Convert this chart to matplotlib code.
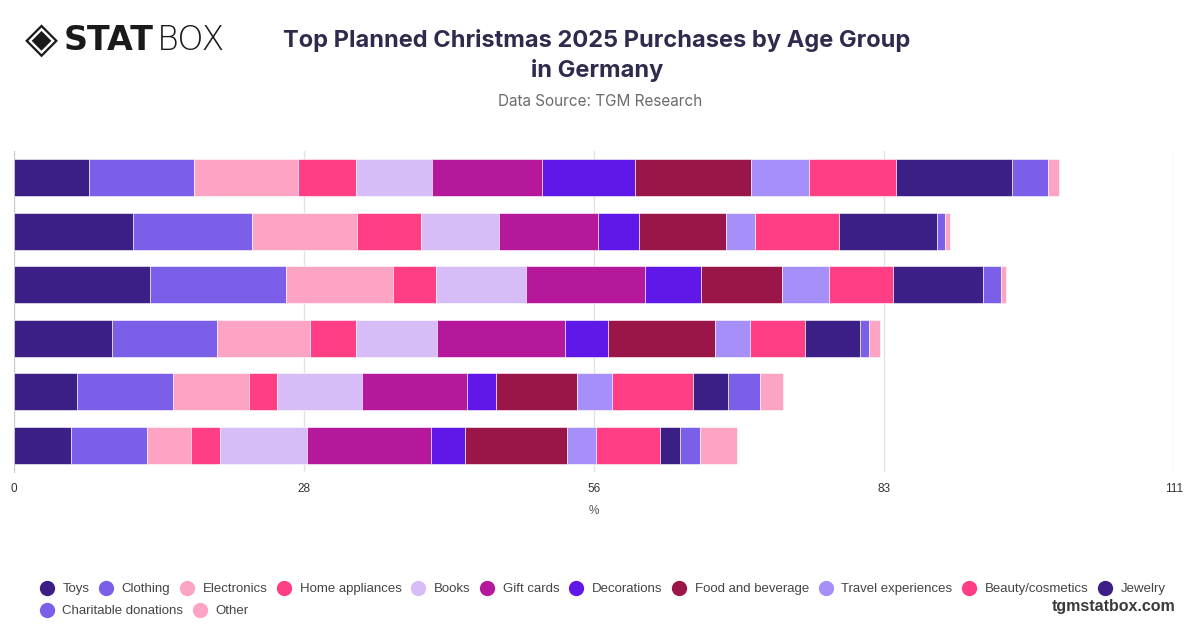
import matplotlib.pyplot as plt
from matplotlib.lines import Line2D
import numpy as np

# age groups (labels are not shown on the chart)
age_groups = ["18-24", "25-34", "35-44", "45-54", "55-64", "65+"]

categories = ["Toys", "Clothing", "Electronics", "Home appliances", "Books",
              "Gift cards", "Decorations", "Food and beverage", "Travel experiences",
              "Beauty/cosmetics", "Jewelry", "Charitable donations", "Other"]

# share (%) per category, one list per age group, top bar first
values = [
    [7.2, 10.0, 10.0, 5.5, 7.3, 10.5, 8.9, 11.1, 5.6, 8.3, 11.1, 3.4, 1.1],
    [11.4, 11.4, 10.0, 6.1, 7.5, 9.5, 3.9, 8.3, 2.8, 8.0, 9.4, 0.8, 0.5],
    [13.0, 13.0, 10.3, 4.1, 8.6, 11.4, 5.3, 7.8, 4.5, 6.1, 8.6, 1.7, 0.5],
    [9.4, 10.0, 8.9, 4.4, 7.8, 12.2, 4.1, 10.3, 3.3, 5.3, 5.3, 0.8, 1.1],
    [6.0, 9.2, 7.3, 2.7, 8.1, 10.0, 2.8, 7.8, 3.3, 7.8, 3.3, 3.1, 2.2],
    [5.5, 7.2, 4.2, 2.8, 8.3, 11.9, 3.3, 9.7, 2.8, 6.1, 1.9, 1.9, 3.6],
]

colors = ["#3b1f87", "#7c5fe9", "#fda4c4", "#ff3e86", "#d6bdf8", "#b5189b",
          "#6018e8", "#9b1648", "#a78ffa", "#ff3e86", "#3b1f87", "#7c5fe9", "#fda4c4"]

x_max = 111
x_ticks = np.linspace(0, x_max, 5)

fig = plt.figure(figsize=(12, 6.28), dpi=100)
ax = fig.add_axes([14/1200, 1 - 472/628, 1160/1200, 321/628])

data = np.array(values)
y = np.arange(len(age_groups))
left = np.zeros(len(age_groups))
for i, cat in enumerate(categories):
    ax.barh(y, data[:, i], left=left, height=0.69, color=colors[i],
            edgecolor="white", linewidth=0.4, label=cat, zorder=3)
    left += data[:, i]

ax.set_ylim(len(age_groups) - 0.5, -0.5)
ax.set_xlim(0, x_max)
ax.set_yticks([])
ax.set_xticks(x_ticks)
ax.set_xticklabels([f"{t:.0f}" for t in x_ticks], fontsize=8.5, color="#333333",
                   family="Liberation Sans")
ax.tick_params(axis="x", length=0, pad=8)
ax.grid(axis="x", color="#e3e3e3", linewidth=1, zorder=0)
for s in ["top", "right", "bottom"]:
    ax.spines[s].set_visible(False)
ax.spines["left"].set_color("#cccccc")
ax.set_xlabel("%", fontsize=8.5, color="#555555", labelpad=7, family="Liberation Sans")

# titles
fig.text(0.4975, 1 - 40/628, "Top Planned Christmas 2025 Purchases by Age Group",
         ha="center", va="center", fontsize=17, fontweight="bold", color="#2e2b4d",
         family="Inter")
fig.text(0.4975, 1 - 70/628, "in Germany", ha="center", va="center", fontsize=17,
         fontweight="bold", color="#2e2b4d", family="Inter")
fig.text(0.5, 1 - 101/628, "Data Source: TGM Research", ha="center", va="center",
         fontsize=11, color="#6b6b6b", family="Inter")

# logo
fig.text(25/1200, 1 - 40/628, "\u25c8", ha="left", va="center", fontsize=31,
         color="#1a1a1a", family="DejaVu Sans")
fig.text(64/1200, 1 - 40/628, "STAT", ha="left", va="center", fontsize=24,
         fontweight="black", color="#1a1a1a", family="DejaVu Sans")
fig.text(157/1200, 1 - 40/628, "BOX", ha="left", va="center", fontsize=24,
         fontweight="light", color="#1a1a1a", family="DejaVu Sans")

# legend
handles = [Line2D([0], [0], marker="o", linestyle="", markersize=10,
                  markerfacecolor=c, markeredgecolor=c) for c in colors]
leg_kw = dict(frameon=False, handlelength=1.0, handletextpad=0.7, columnspacing=0.75,
              prop={"family": "Liberation Sans", "size": 9.5}, borderaxespad=0,
              borderpad=0, loc="center left")
leg1 = fig.legend(handles[:11], categories[:11], ncol=11,
                  bbox_to_anchor=(40/1200, 1 - 589/628), **leg_kw)
leg2 = fig.legend(handles[11:], categories[11:], ncol=2,
                  bbox_to_anchor=(40/1200, 1 - 611/628), **leg_kw)
for leg in (leg1, leg2):
    for t in leg.get_texts():
        t.set_color("#444444")

fig.text(1175/1200, 1 - 606/628, "tgmstatbox.com", ha="right", va="center",
         fontsize=11.5, fontweight="bold", color="#3a3a3a", family="Liberation Sans")

fig.savefig("out.png", dpi=100, facecolor="white")
